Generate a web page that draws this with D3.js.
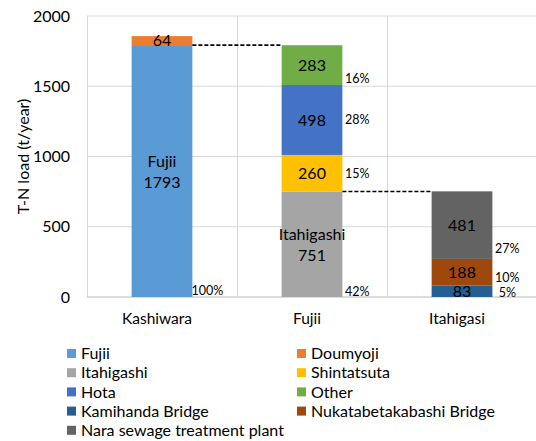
<!DOCTYPE html>
<html><head><meta charset="utf-8">
<script src="https://cdn.jsdelivr.net/npm/d3@7"></script>
<style>body{margin:0;background:#fff}svg{display:block}text{font-family:Lato,"Open Sans",sans-serif;fill:#000}</style>
</head><body><div id="chart"></div>
<script>
const categories = ["Kashiwara", "Fujii", "Itahigasi"];
const seriesNames = ["Fujii", "Doumyoji", "Itahigashi", "Shintatsuta", "Hota", "Other",
  "Kamihanda Bridge", "Nukatabetakabashi Bridge", "Nara sewage treatment plant"];
const fujii       = [1793, 0, 0];
const doumyoji    = [64, 0, 0];
const itahigashi  = [0, 751, 0];
const shintatsuta = [0, 260, 0];
const hota        = [0, 498, 0];
const other       = [0, 283, 0];
const kamihanda   = [0, 0, 83];
const nukata      = [0, 0, 188];
const nara        = [0, 0, 481];
const seriesColors = ["#5B9BD5", "#ED7D31", "#A5A5A5", "#FFC000", "#4472C4", "#70AD47",
  "#255E91", "#9E480E", "#636363"];
const namedSegments = ["Fujii", "Itahigashi"]; // segments labelled with series name
// percentage labels (share of Fujii 1793) and their vertical anchor in t/year
const pctSeries = ["Fujii", "Itahigashi", "Shintatsuta", "Hota", "Other", "Kamihanda Bridge", "Nukatabetakabashi Bridge", "Nara sewage treatment plant"];
const pctLabels = ["100%", "42%", "15%", "28%", "16%", "5%", "10%", "27%"];
const pctAnchor = [43, 36, 875, 1260, 1552, 28, 135, 342];
const yTicks = [0, 500, 1000, 1500, 2000];
const yTitle = "T-N load (t/year)";

const W = 536, H = 441;
const svg = d3.select("#chart").append("svg").attr("width", W).attr("height", H);
const x = d3.scaleBand().domain(categories).range([87, 537]).padding(0);
const y = d3.scaleLinear().domain([0, 2000]).range([297, 16]);
const barW = x.bandwidth() * 0.405;
const bx = c => x(c) + (x.bandwidth() - barW) / 2;

const valuesBySeries = [fujii, doumyoji, itahigashi, shintatsuta, hota, other, kamihanda, nukata, nara];
const table = categories.map((c, i) => {
  const o = { cat: c };
  seriesNames.forEach((s, j) => o[s] = valuesBySeries[j][i]);
  return o;
});
const stack = d3.stack().keys(seriesNames)(table);

// grid
const g = svg.append("g");
g.selectAll("line.h").data(yTicks.filter(t => t > 0)).join("line")
  .attr("x1", 87).attr("x2", 537).attr("y1", d => y(d)).attr("y2", d => y(d))
  .attr("stroke", "#d9d9d9").attr("stroke-width", 1);
g.selectAll("line.v").data(categories).join("line")
  .attr("x1", d => Math.round(x(d)) + 0.5).attr("x2", d => Math.round(x(d)) + 0.5)
  .attr("y1", y(2000)).attr("y2", y(0)).attr("stroke", "#d9d9d9");
g.append("line").attr("x1", 87).attr("x2", 537).attr("y1", y(0)).attr("y2", y(0))
  .attr("stroke", "#d0d0d0").attr("stroke-width", 1.5);

// y axis
const yAxis = d3.axisLeft(y).tickValues(yTicks).tickFormat(d3.format("d")).tickSize(0).tickPadding(17);
const ya = svg.append("g").attr("transform", "translate(87,0)").call(yAxis);
ya.select(".domain").remove();
ya.selectAll("text").style("font-size", "16px").style("font-family", "Lato").attr("fill", "#000");
svg.append("text").attr("transform", `translate(23,${(y(0) + y(2000)) / 2}) rotate(-90)`)
  .attr("text-anchor", "middle").attr("dy", "0.35em").style("font-size", "16px").text(yTitle);

// x axis labels
const xAxis = d3.axisBottom(x).tickSize(0).tickPadding(16);
const xa = svg.append("g").attr("transform", `translate(-5,${y(0)})`).call(xAxis);
xa.select(".domain").remove();
xa.selectAll("text").style("font-size", "15.5px").style("font-family", "Lato").attr("fill", "#000");

// bars
const layers = svg.append("g").selectAll("g").data(stack).join("g")
  .attr("fill", (d, i) => seriesColors[i]);
layers.selectAll("rect").data(d => d.map(p => ({ p, key: d.key }))).join("rect")
  .filter(d => d.p[1] > d.p[0])
  .attr("x", d => bx(d.p.data.cat)).attr("width", barW)
  .attr("y", d => y(d.p[1])).attr("height", d => y(d.p[0]) - y(d.p[1]));

// segment value labels
const segs = [];
stack.forEach(layer => layer.forEach(p => { if (p[1] > p[0]) segs.push({ key: layer.key, cat: p.data.cat, v0: p[0], v1: p[1] }); }));
const lab = svg.append("g").style("font-size", "16px").attr("text-anchor", "middle");
segs.forEach(s => {
  const cx = bx(s.cat) + barW / 2, cy = y((s.v0 + s.v1) / 2);
  const val = s.v1 - s.v0;
  if (namedSegments.includes(s.key)) {
    lab.append("text").attr("x", cx).attr("y", cy - 10).attr("dy", "0.35em").text(s.key);
    lab.append("text").attr("x", cx).attr("y", cy + 11).attr("dy", "0.35em").text(val);
  } else {
    lab.append("text").attr("x", cx).attr("y", cy).attr("dy", "0.35em").text(val);
  }
});

// percentage labels
const pl = svg.append("g").style("font-size", "12.5px").attr("text-anchor", "middle");
pctSeries.forEach((s, i) => {
  const seg = segs.find(d => d.key === s);
  pl.append("text").attr("x", bx(seg.cat) + barW + 15).attr("y", y(pctAnchor[i]))
    .attr("dy", "0.35em").text(pctLabels[i]);
});

// dashed connectors
const conn = [
  { from: categories[0], to: categories[1], v: fujii[0] },
  { from: categories[1], to: categories[2], v: itahigashi[1] }
];
svg.append("g").selectAll("line").data(conn).join("line")
  .attr("x1", d => bx(d.from) + barW).attr("x2", d => bx(d.to))
  .attr("y1", d => y(d.v)).attr("y2", d => y(d.v))
  .attr("stroke", "#000").attr("stroke-width", 1.6).attr("stroke-dasharray", "4,2");

// legend
const leg = svg.append("g").style("font-size", "16px");
seriesNames.forEach((s, i) => {
  const col = i % 2, row = Math.floor(i / 2);
  const lx = col === 0 ? 67 : 297, ly = 353.5 + row * 19.2;
  leg.append("rect").attr("x", lx).attr("y", ly - 4.5).attr("width", 9).attr("height", 9).attr("fill", seriesColors[i]);
  leg.append("text").attr("x", lx + 14).attr("y", ly).attr("dy", "0.35em").text(s);
});
</script></body></html>
